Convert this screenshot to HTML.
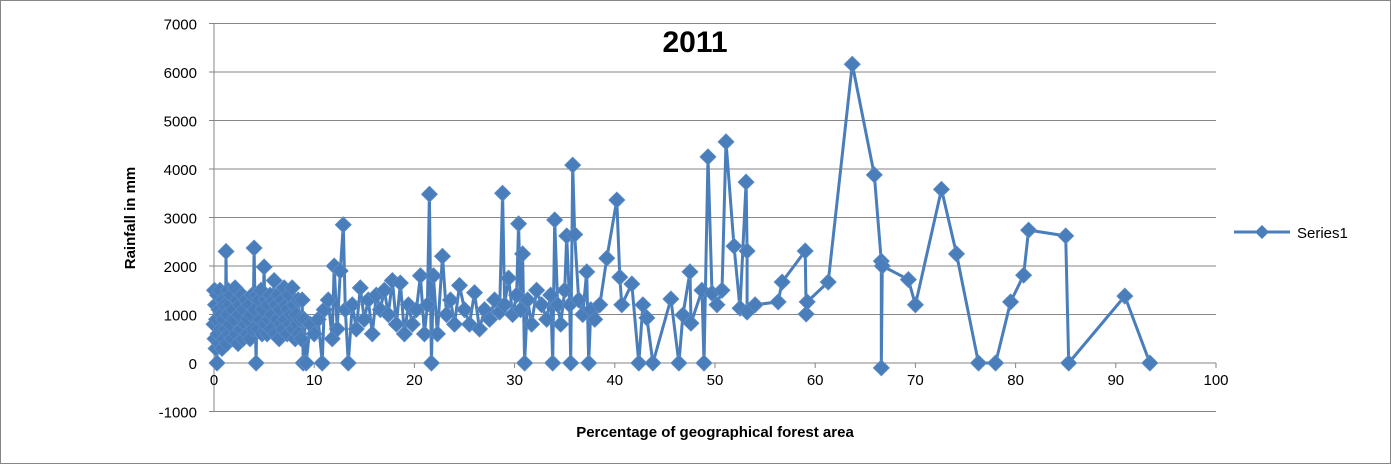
<!DOCTYPE html>
<html><head><meta charset="utf-8"><style>
html,body{margin:0;padding:0;background:#fff;}
svg{display:block;font-family:"Liberation Sans",sans-serif;}
</style></head><body>
<svg id="chart" width="1391" height="464">
<rect x="0.5" y="0.5" width="1390" height="463" fill="#fff" stroke="#868686"/>
<g id="grid"></g>
<g id="axes"></g>
<g id="series"></g>
<text x="695" y="52" font-size="30" font-weight="bold" text-anchor="middle">2011</text>
<text transform="translate(135,218) rotate(-90)" font-size="15" font-weight="bold" text-anchor="middle">Rainfall in mm</text>
<text x="715" y="437" font-size="15" font-weight="bold" text-anchor="middle">Percentage of geographical forest area</text>
<g>
<line x1="1234" y1="232" x2="1290" y2="232" stroke="#4a7ebb" stroke-width="3"/>
<path d="M1262,225 L1269,232 L1262,239 L1255,232 Z" fill="#4a7ebb"/>
<text x="1297" y="238" font-size="15">Series1</text>
</g>
</svg>
<script>
const xVals=[0,0.05,0.1,0.15,0.2,0.25,0.3,0.35,0.4,0.5,0.55,0.6,0.7,0.75,0.8,0.9,0.95,1.0,1.1,1.15,1.2,1.3,1.35,1.4,1.5,1.55,1.6,1.7,1.8,1.9,2.0,2.1,2.2,2.3,2.4,2.5,2.6,2.7,2.8,2.9,3.0,3.1,3.2,3.3,3.4,3.5,3.6,3.7,3.8,3.9,4.0,4.1,4.2,4.3,4.4,4.5,4.6,4.7,4.8,4.9,5.0,5.1,5.2,5.3,5.4,5.5,5.6,5.7,5.8,5.9,6.0,6.1,6.2,6.3,6.4,6.5,6.6,6.7,6.8,6.9,7.0,7.1,7.2,7.3,7.4,7.5,7.6,7.7,7.8,7.9,8.0,8.1,8.2,8.3,8.4,8.5,8.6,8.7,8.8,8.9,9.0,9.2,9.6,10.0,10.4,10.8,11.0,11.4,11.8,12.0,12.3,12.6,12.9,13.1,13.4,13.8,14.2,14.6,15.0,15.4,15.8,16.2,16.6,17.0,17.4,17.8,18.2,18.6,19.0,19.4,19.8,20.2,20.6,21.0,21.3,21.5,21.7,21.9,22.3,22.8,23.2,23.6,24.0,24.5,25.0,25.5,26.0,26.5,27.0,27.5,28.0,28.5,28.8,29.0,29.4,29.8,30.2,30.4,30.6,30.8,31.0,31.3,31.7,32.2,32.7,33.2,33.6,33.8,34.0,34.3,34.6,35.0,35.2,35.5,35.6,35.8,36.0,36.4,36.8,37.2,37.4,37.6,38.0,38.5,39.2,40.2,40.5,40.7,41.7,42.4,42.8,43.2,43.8,45.6,46.4,46.8,47.5,47.6,48.7,48.9,49.3,49.7,50.2,50.7,51.1,51.9,52.5,53.1,53.2,53.2,54.0,56.3,56.7,59.0,59.1,59.2,61.3,63.7,65.9,66.6,66.6,66.7,69.3,70.0,72.6,74.1,76.3,78.0,79.5,80.8,81.3,85.0,85.3,90.9,93.4];
const yVals=[800,1500,500,1200,300,900,0,1400,600,1100,400,1500,700,1000,300,1300,900,500,1200,700,2300,400,1000,1500,600,1200,800,1400,500,1100,900,1550,600,1300,400,1000,1200,700,1400,500,1100,800,1300,600,900,1200,500,1000,1400,700,2370,1100,0,1400,700,1300,900,1500,600,1100,1980,800,1300,600,1200,900,1400,700,1000,1300,1700,600,1200,900,1400,500,1100,800,1300,700,1550,900,1200,600,1100,1400,800,1000,1550,700,1200,500,1000,800,1300,600,900,500,1300,0,900,0,800,600,900,0,1100,1300,500,2000,700,1900,2850,1100,0,1200,700,1550,900,1300,600,1400,1100,1500,1000,1700,800,1650,600,1200,800,1100,1800,600,1200,3480,0,1800,600,2200,1000,1300,800,1600,1100,800,1450,700,1100,900,1300,1050,3500,1200,1750,1000,1400,2870,1100,2250,0,1300,800,1500,1200,900,1400,0,2950,1200,800,1500,2620,1200,0,4080,2650,1300,1000,1880,0,1100,900,1200,2160,3360,1770,1200,1630,0,1200,930,0,1320,0,990,1880,820,1500,0,4250,1440,1200,1500,4560,2410,1130,3730,2310,1050,1200,1260,1670,2310,1010,1260,1670,6160,3880,2100,-100,2000,1720,1200,3580,2250,0,0,1260,1810,2740,2620,0,1380,0];
const yTicks=[-1000,0,1000,2000,3000,4000,5000,6000,7000];
const xTicks=[0,10,20,30,40,50,60,70,80,90,100];
const NS="http://www.w3.org/2000/svg";
function sx(v){return 214+v*10.02;}
function sy(v){return 363-v*0.0485;}
const grid=document.getElementById('grid'),axes=document.getElementById('axes'),ser=document.getElementById('series');
function mk(tag,attrs,parent){const e=document.createElementNS(NS,tag);for(const k in attrs)e.setAttribute(k,attrs[k]);parent.appendChild(e);return e;}
yTicks.forEach(t=>{
  const g=mk('line',{x1:214,x2:1216,y1:sy(t),y2:sy(t),stroke:'#868686','stroke-width':1},grid);
  
  
  mk('line',{x1:209,x2:214,y1:sy(t),y2:sy(t),stroke:'#868686'},axes);
  const l=mk('text',{x:197,y:sy(t)+6,'font-size':15,'text-anchor':'end'},axes);
  l.textContent=t;
  
  
});
const ya=mk('line',{x1:214,x2:214,y1:sy(7000),y2:sy(-1000),stroke:'#868686'},axes);


xTicks.forEach(t=>{
  mk('line',{x1:sx(t),x2:sx(t),y1:363,y2:368,stroke:'#868686'},axes);
  const l=mk('text',{x:sx(t),y:385,'font-size':15,'text-anchor':'middle'},axes);
  l.textContent=t;
  
  
});
const n=Math.min(xVals.length,yVals.length);
const pts=xVals.slice(0,n).map((x,i)=>sx(x).toFixed(1)+','+sy(yVals[i]).toFixed(1)).join(' ');
const pl=mk('polyline',{points:pts,fill:'none',stroke:'#4a7ebb','stroke-width':3,'stroke-linejoin':'round'},ser);


xVals.slice(0,n).forEach((x,i)=>{
  const cx=sx(x),cy=sy(yVals[i]);
  const d=mk('path',{d:`M${cx},${cy-8} L${cx+8},${cy} L${cx},${cy+8} L${cx-8},${cy} Z`,fill:'#4a7ebb',stroke:'#5a8bc6','stroke-width':0.8},ser);
  
  
});
</script>
</body></html>
